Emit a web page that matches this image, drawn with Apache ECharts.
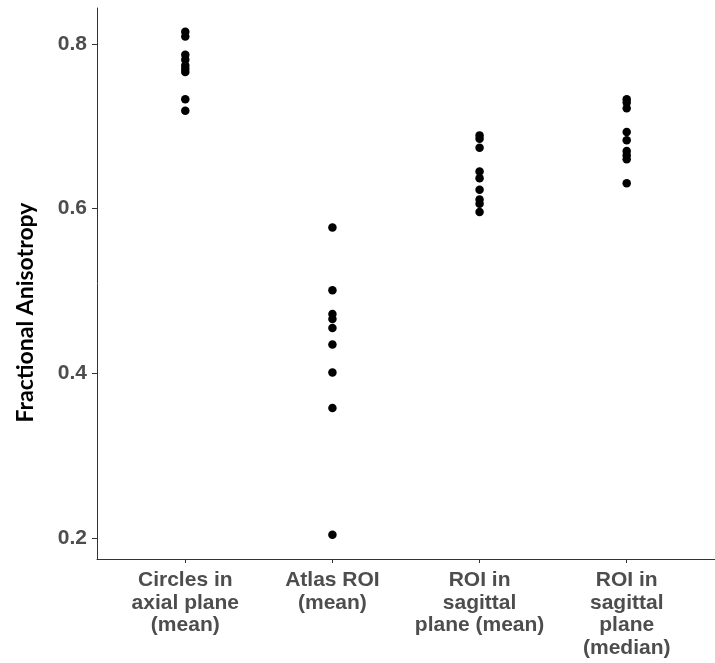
<!DOCTYPE html>
<html>
<head>
<meta charset="utf-8">
<script src="https://cdn.jsdelivr.net/npm/echarts@6/dist/echarts.min.js"></script>
<style>
html,body{margin:0;padding:0;background:#fff;}
#chart{width:715px;height:663px;}
</style>
</head>
<body>
<div id="chart"></div>
<script>
// Categories (x axis)
const categories = [
  "Circles in\naxial plane\n(mean)",
  "Atlas ROI\n(mean)",
  "ROI in\nsagittal\nplane (mean)",
  "ROI in\nsagittal\nplane\n(median)"
];
// Fractional anisotropy values per method
const circlesAxialMean = [0.815, 0.809, 0.787, 0.781, 0.774, 0.770, 0.766, 0.733, 0.719];
const atlasRoiMean = [0.577, 0.501, 0.472, 0.466, 0.455, 0.435, 0.401, 0.358, 0.204];
const roiSagittalMean = [0.689, 0.685, 0.674, 0.645, 0.637, 0.623, 0.611, 0.606, 0.596];
const roiSagittalMedian = [0.733, 0.729, 0.722, 0.693, 0.683, 0.670, 0.665, 0.660, 0.631];
// Y tick labels
const yTicks = [0.2, 0.4, 0.6, 0.8];
const yTitle = "Fractional Anisotropy";

const groups = [circlesAxialMean, atlasRoiMean, roiSagittalMean, roiSagittalMedian];
const points = [];
groups.forEach((vals, i) => vals.forEach(v => points.push([i + 1, v])));
const xPositions = categories.map((c, i) => i + 1);

const chart = echarts.init(document.getElementById('chart'));
const labelColor = '#4d4d4d';
const lineColor = '#333333';
chart.setOption({
  animation: false,
  backgroundColor: '#ffffff',
  grid: { left: 97, top: 8, width: 630, height: 551, containLabel: false },
  xAxis: {
    type: 'value',
    min: 0.4,
    max: 4.6,
    splitLine: { show: false },
    axisLine: { show: true, onZero: false, lineStyle: { color: lineColor, width: 1 } },
    axisTick: { show: true, length: 4, customValues: xPositions, lineStyle: { color: lineColor } },
    axisLabel: {
      customValues: xPositions,
      formatter: v => categories[Math.round(v) - 1] || '',
      color: labelColor,
      fontFamily: 'Liberation Sans',
      fontWeight: 'bold',
      fontSize: 21,
      lineHeight: 22.5,
      align: 'center',
      margin: 10
    }
  },
  yAxis: {
    type: 'value',
    min: 0.1745,
    max: 0.8437,
    name: yTitle,
    nameLocation: 'middle',
    nameGap: 60,
    nameRotate: 90,
    nameTextStyle: {
      color: '#000',
      fontFamily: 'Lato',
      fontWeight: 'bold',
      fontSize: 23,
      padding: [0, 58, 0, 0]
    },
    splitLine: { show: false },
    axisLine: { show: true, onZero: false, lineStyle: { color: lineColor, width: 1 } },
    axisTick: { show: true, length: 5, customValues: yTicks, lineStyle: { color: lineColor } },
    axisLabel: {
      customValues: yTicks,
      formatter: v => v.toFixed(1),
      color: labelColor,
      fontFamily: 'Liberation Sans',
      fontWeight: 'bold',
      fontSize: 21,
      margin: 10
    }
  },
  series: [{
    type: 'scatter',
    data: points,
    symbol: 'circle',
    symbolSize: 8.5,
    itemStyle: { color: '#000', opacity: 1 }
  }]
});
</script>
</body>
</html>
